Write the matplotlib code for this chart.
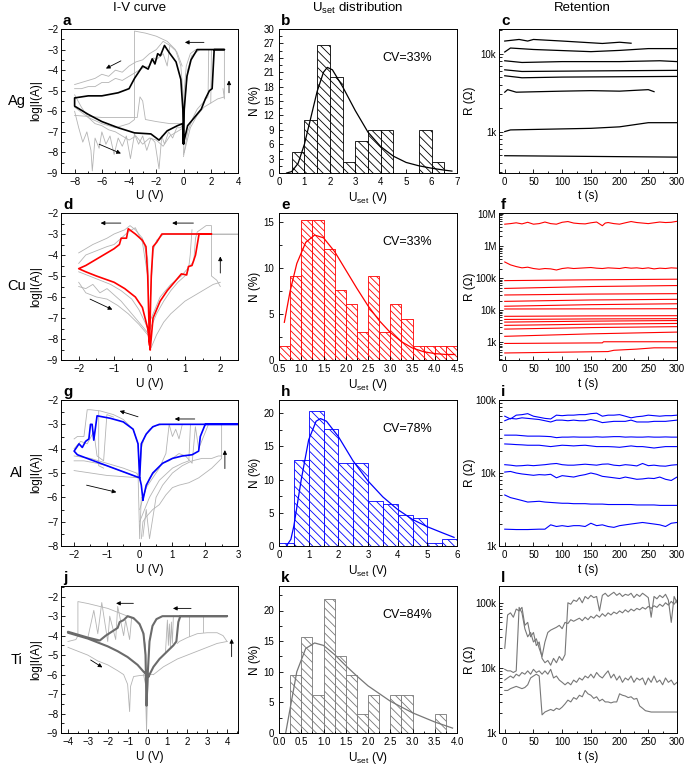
import matplotlib
matplotlib.use('Agg')
import matplotlib.pyplot as plt
from matplotlib.ticker import MultipleLocator, FixedLocator, FuncFormatter, LogLocator, NullFormatter
import numpy as np

plt.rcParams['font.family'] = ['Liberation Sans', 'DejaVu Sans']
plt.rcParams['hatch.linewidth'] = 0.6
plt.rcParams['mathtext.default'] = 'regular'

# ---------------- I-V curves (log|I| vs U) ----------------
# Ag (a): highlighted black loop
a_main_x = [0, 0.3, 0.8, 1.3, 1.6, 1.9, 2.1, 2.25, 3.0, 1.0, 0.55, 0.25, 0.05, 0, -0.05, -0.2, -0.55, -1.05, -1.4,
            -1.7, -1.9, -2.1, -2.3, -2.6, -3.0, -3.6, -4.0, -4.8, -6.0, -7.0, -8.0,
            -8.0, -7.0, -6.0, -4.8, -3.6, -2.4, -1.8, -1.2, -0.45, -0.07, 0]
a_main_y = [-7.55, -6.7, -6.3, -5.9, -5.4, -5.0, -4.9, -3.0, -3.0, -3.0, -3.5, -4.3, -5.9, -7.6, -5.9, -4.45, -3.6, -3.15, -2.8,
            -3.3, -3.2, -3.7, -3.45, -3.95, -3.8, -4.4, -4.9, -5.1, -5.25, -5.25, -5.35,
            -5.75, -6.15, -6.5, -6.8, -7.05, -7.1, -7.4, -6.95, -6.7, -6.6, -7.55]
a_gray = [
    ([3.0, 0.9, 0.5, 0.2, 0.05, 0, -0.05, -0.2, -0.6, -1.2, -2.0, -2.8, -3.6, -3.6, -4.0, -5.0, -6.0, -7.0, -8.0],
     [-3.0, -3.0, -3.2, -3.8, -5.0, -7.0, -5.0, -3.8, -3.0, -2.6, -2.35, -2.2, -2.1, -6.4, -6.6, -6.8, -6.6, -6.3, -5.8]),
    ([-8, -7.5, -7, -6.5, -6, -5.5, -5, -4.5, -4, -3.5, -3, -2.5, -2, -1.5, -1, -0.5, -0.1],
     [-4.7, -4.6, -4.5, -4.4, -4.2, -4.3, -4.0, -4.1, -3.8, -3.6, -3.5, -3.2, -3.0, -2.6, -2.8, -3.1, -3.8]),
    ([-8, -7.5, -7, -6.5, -6, -5.5, -5, -4.5, -4, -3.5, -3, -2.5, -2.2, -2, -1.5, -1.2, -1],
     [-4.9, -4.9, -4.8, -4.8, -4.6, -4.6, -4.4, -4.5, -4.3, -4.1, -3.9, -3.8, -3.4, -3.5, -3.2, -3.8, -2.8]),
    ([-8, -7.7, -7.4, -7.1, -6.8, -6.7, -6.5, -6.2, -6, -5.7, -5.4, -5.1, -4.8, -4.5, -4.2, -3.9, -3.6, -3.3, -3, -2.7,
      -2.4, -2.1, -1.8, -1.6, -1.4, -1.1, -0.8, -0.5, -0.2, 0],
     [-6.0, -6.8, -7.5, -7.0, -7.9, -8.9, -7.3, -7.8, -7.0, -7.6, -7.2, -8.1, -7.3, -7.7, -7.2, -8.3, -7.1, -7.6, -7.2, -7.9,
      -7.3, -7.5, -8.8, -7.2, -7.6, -7.0, -7.3, -6.8, -6.8, -6.6]),
    ([-8, -7.5, -7, -6.5, -6, -5.5, -5, -4.5, -4, -3.5, -3, -2.5, -2, -1.5, -1, -0.5, 0],
     [-5.2, -5.8, -6.3, -6.6, -6.7, -6.9, -7.0, -7.2, -7.4, -7.2, -7.6, -7.3, -7.4, -7.7, -7.2, -7.0, -6.8]),
    ([-8, -6, -4, -3.4, -3.2, -3, -2.8, -2, -1, 0],
     [-6.2, -6.3, -6.3, -6.3, -5.3, -5.5, -6.4, -6.5, -6.6, -6.6]),
    ([0, 0.3, 0.7, 1.0, 1.4, 1.8, 1.85, 2.0], [-8.2, -7.0, -6.3, -5.9, -5.6, -5.3, -3.0, -3.0]),
    ([0.05, 0.5, 1, 1.5, 2, 2.5, 3.0], [-8.0, -6.8, -6.2, -5.8, -5.6, -5.4, -5.3]),
    ([2.0, 2.05, 3.0], [-5.6, -3.0, -3.0]),
    ([2.9, 3.0, 3.0], [-4.9, -5.4, -3.0]),
    ([3, 1.2, 0.6, 0.3, 0.1, 0], [-3, -3, -3.3, -4, -5.5, -8.1]),
]
a_arrows = [((-4.6, -3.55), (-5.7, -3.92)), ((1.5, -2.65), (0.1, -2.65)),
            ((3.34, -5.1), (3.34, -4.5)), ((-6.2, -7.6), (-4.6, -8.05))]

# Cu (d): highlighted red loop
d_main_x = [0.02, 0.1, 0.3, 0.5, 0.7, 0.9, 1.05, 1.1, 1.2, 1.3, 1.4, 1.75, 0.35, 0.2, 0.1, 0.05, 0.0,
            -0.05, -0.1, -0.2, -0.4, -0.6, -0.65, -0.8, -0.85, -1.0, -1.2, -1.5, -1.8, -2.0,
            -1.8, -1.5, -1.0, -0.7, -0.4, -0.2, -0.05, 0.02]
d_main_y = [-8.5, -7.0, -6.2, -5.7, -5.3, -4.9, -4.95, -4.55, -4.5, -4.0, -3.0, -3.0, -3.0, -3.4, -3.6, -5.0, -8.3,
            -5.0, -3.6, -3.3, -3.0, -2.75, -3.2, -3.2, -3.5, -3.7, -3.9, -4.2, -4.5, -4.65,
            -4.8, -5.0, -5.3, -5.6, -6.0, -6.5, -7.5, -8.5]
d_gray = [
    ([-2, -1.6, -1.2, -1.0, -0.7, -0.55, -0.4, -0.2, -0.05, 0.0], [-3.9, -3.5, -3.2, -3.0, -2.8, -2.6, -2.8, -3.2, -4.2, -7.8]),
    ([-2, -1.8, -1.5, -1.2, -1, -0.8, -0.6, -0.4, -0.2, -0.05], [-4.4, -4.0, -3.8, -3.6, -3.5, -3.2, -2.9, -2.7, -3.4, -5.0]),
    ([-2, -1.8, -1.6, -1.4, -1.2, -1.0, -0.8, -0.6, -0.4, -0.2, 0], [-5.5, -5.6, -5.4, -5.8, -5.6, -5.9, -6.2, -6.6, -7.0, -7.4, -7.8]),
    ([-2, -1.7, -1.4, -1.1, -0.8, -0.5, -0.3, -0.1, 0.05], [-4.8, -5.0, -5.2, -5.4, -5.7, -6.1, -6.6, -7.3, -8.0]),
    ([-2, -1.8, -1.5, -1.2, -0.9, -0.6, -0.3, 0], [-5.3, -5.8, -6.0, -6.1, -6.4, -6.8, -7.3, -7.9]),
    ([0.05, 0.2, 0.4, 0.6, 0.8, 1.0, 1.2, 1.4, 1.6, 1.8, 2.0], [-8.4, -7.8, -7.2, -6.8, -6.5, -6.2, -6.0, -5.8, -5.6, -5.4, -5.3]),
    ([0.0, 0.2, 0.4, 0.6, 0.8, 1.0, 1.1, 1.15, 1.2], [-7.6, -6.8, -6.2, -5.7, -5.3, -5.0, -4.7, -4.0, -2.8]),
    ([0.0, 0.3, 0.6, 0.9, 1.1, 1.25, 1.3, 1.35, 1.6, 1.75, 1.75, 1.9, 2.0], [-7.2, -6.0, -5.4, -5.0, -4.6, -4.3, -3.2, -2.9, -2.6, -2.6, -5.0, -5.2, -5.5]),
    ([1.4, 2.5], [-3.0, -3.0]),
    ([2.5, 0.4, 0.2, 0.1, 0.03], [-3.0, -3.0, -3.3, -3.8, -6.0]),
]
d_arrows = [((-0.81, -2.48), (-1.38, -2.48)), ((1.24, -2.48), (0.64, -2.48)),
            ((2.0, -4.86), (2.0, -4.07)), ((-1.68, -6.1), (-1.05, -6.6))]

# Al (g): highlighted blue loop
g_main_x = [0.1, 0.2, 0.4, 0.7, 1.0, 1.3, 1.6, 1.8, 1.85, 2.0, 3.0, 0.6, 0.4, 0.2, 0.05, 0.0,
            -0.05, -0.2, -0.5, -0.9, -1.3, -1.4, -1.45, -1.5, -1.55, -1.65, -1.75, -1.85, -2.0,
            -1.9, -1.5, -1.0, -0.5, 0.0, 0.05, 0.1]
g_main_y = [-6.1, -5.5, -5.0, -4.6, -4.4, -4.3, -4.25, -4.1, -3.5, -3.0, -3.0, -3.0, -3.1, -3.4, -3.8, -5.2,
            -3.8, -3.2, -2.9, -2.75, -2.65, -3.65, -3.0, -3.0, -3.6, -3.7, -3.95, -3.8, -4.1,
            -4.25, -4.45, -4.7, -4.95, -5.2, -5.5, -6.1]
g_gray = [
    ([-2, -1.9, -1.7, -1.6, -1.5, -1.2, -0.8, -0.5, -0.2, -0.05, 0], [-3.6, -3.5, -3.5, -2.4, -2.4, -2.45, -2.6, -2.8, -3.2, -3.8, -5.3]),
    ([-2, -1.8, -1.6, -1.4, -1.3, -1.1, -1.0, -0.8], [-4.0, -3.7, -3.8, -3.3, -4.3, -4.5, -2.6, -2.7]),
    ([-2, -1.5, -1, -0.5, 0], [-4.9, -5.0, -5.1, -5.15, -5.2]),
    ([-2, -1.5, -1, -0.5, -0.1, 0], [-4.3, -4.4, -4.6, -4.8, -5.0, -5.2]),
    ([-2, -1.7, -1.3, -1.0, -0.6, -0.2, 0], [-4.5, -4.5, -4.6, -4.7, -4.9, -5.1, -5.2]),
    ([-1.25, -1.25, -1.1], [-2.45, -4.7, -4.8]),
    ([0.05, 0.1, 0.2, 0.4, 0.6, 0.8, 1.0, 1.2, 1.5, 1.8, 2.0, 2.2, 2.5, 2.5, 2.6],
     [-7.7, -7.0, -6.8, -6.5, -6.3, -5.9, -5.6, -5.5, -5.4, -5.2, -5.0, -4.8, -4.4, -3.0, -3.0]),
    ([0.1, 0.2, 0.3, 0.5, 0.7, 1.0, 1.3, 1.6, 1.9, 2.2, 2.4, 2.5], [-7.6, -6.5, -7.7, -6.0, -5.5, -5.0, -4.7, -4.5, -4.4, -4.4, -4.3, -4.3]),
    ([0.0, 0.2, 0.4, 0.6, 0.8, 0.9, 1.0, 1.1, 1.2, 1.3], [-6.5, -5.6, -5.2, -4.8, -4.2, -3.0, -3.5, -3.2, -3.6, -3.0]),
    ([0.1, 0.3, 0.5, 0.7, 0.9, 1.2, 1.4, 1.6, 1.7, 1.8, 2.1, 2.5], [-6.0, -5.2, -4.9, -4.6, -4.5, -4.2, -4.3, -4.6, -3.1, -4.0, -3.0, -3.0]),
    ([0.0, 0.3, 0.6, 1.0, 1.3, 1.5, 1.55], [-7.0, -6.0, -5.3, -4.8, -4.6, -4.5, -3.0]),
    ([3, 0.7, 0.5, 0.3, 0.15, 0.05, 0], [-3, -3, -3.05, -3.2, -3.5, -4, -5.2]),
    ([-0.05, 0, 0.05], [-5.0, -7.7, -6.0]),
]
g_arrows = [((-0.05, -2.69), (-0.61, -2.45)), ((1.68, -2.78), (1.07, -2.78)),
            ((2.6, -4.82), (2.6, -4.06)), ((-1.62, -5.5), (-0.71, -5.79))]

# Ti (j): highlighted dark gray loop
j_main_x = [0.05, 0.3, 0.6, 1.0, 1.3, 1.45, 1.55, 1.65, 4.0, 0.75, 0.45, 0.25, 0.1, 0.02, -0.05, -0.1, -0.2, -0.4, -0.7,
            -1.0, -1.2, -1.4, -1.5, -1.8, -2.1, -2.4, -3.0, -3.5, -4.0,
            -4.0, -3.5, -3.0, -2.5, -2.0, -1.5, -1.0, -0.5, -0.2, 0.05]
j_main_y = [-6.1, -5.6, -5.2, -4.8, -4.5, -4.3, -3.3, -3.0, -3.0, -3.0, -3.15, -3.5, -4.3, -5.8, -7.6, -5.0, -3.9, -3.4, -3.1,
            -3.0, -3.2, -3.3, -3.6, -3.8, -4.0, -4.25, -4.1, -3.95, -3.8,
            -3.85, -4.0, -4.15, -4.35, -4.55, -4.8, -5.1, -5.5, -5.85, -6.1]
j_gray = [
    ([-4.0, -3.6, -3.5, -3.5, -3.0, -2.0, -1.5, -1.0, -0.6, -0.3, -0.1, -0.05],
     [-4.3, -4.2, -4.0, -2.25, -2.35, -2.6, -2.8, -3.0, -3.2, -3.6, -4.5, -8.8]),
    ([-4.0, -3.5, -3.0, -2.5, -2.0, -1.5, -1.2, -1.0, -0.9, -0.85, -0.7, -0.4, 0.2, 0.3],
     [-4.6, -4.8, -5.0, -5.3, -5.5, -5.8, -6.0, -6.5, -7.9, -6.6, -6.1, -6.05, -6.0, -6.0]),
    ([0.3, 0.8, 1.5, 2.0, 2.5, 3.0, 3.5, 4.0], [-6.0, -5.6, -5.2, -5.0, -4.8, -4.6, -4.4, -4.3]),
    ([4.0, 3.8, 3.5, 3.0, 2.5, 2.0, 1.8, 1.6, 1.5], [-4.3, -4.0, -3.85, -3.85, -3.9, -4.1, -4.2, -4.3, -4.4]),
    ([0.9, 1.0, 1.05, 1.1, 1.15, 1.2, 1.25, 1.3], [-4.9, -3.2, -4.5, -3.4, -4.6, -3.3, -4.4, -3.0]),
    ([2.1, 2.1, 2.8, 2.8], [-4.0, -3.0, -3.0, -3.8]),
    ([-0.8, -0.9, -1.1, -1.2, -1.5, -1.6, -1.9, -2.0, -2.3, -2.5, -2.7, -3.0],
     [-3.1, -4.2, -3.2, -4.0, -2.5, -4.2, -3.0, -4.3, -2.3, -3.9, -2.7, -4.1]),
    ([-0.2, -0.1, -0.05, 0.0, 0.05], [-6.0, -6.5, -8.9, -7.0, -6.0]),
]
j_arrows = [((-0.71, -2.34), (-1.58, -2.34)), ((2.19, -2.6), (1.28, -2.6)),
            ((4.23, -5.08), (4.23, -4.17)), ((-2.86, -5.25), (-2.27, -5.63))]

# ---------------- U_set histograms ----------------
b_left = [0.5, 1.0, 1.5, 2.0, 2.5, 3.0, 3.5, 4.0, 5.5, 6.0]
b_height = [4.4, 11.1, 26.7, 20.0, 2.2, 6.7, 8.9, 8.9, 8.9, 2.2]
b_fit_x = [0.3, 0.5, 0.75, 1.0, 1.25, 1.5, 1.75, 1.9, 2.1, 2.5, 3.0, 3.5, 4.0, 4.5, 5.0, 5.5, 6.0, 6.5, 6.8]
b_fit_y = [0, 0.3, 2, 6, 11.5, 17, 21, 22, 21.5, 18, 13, 8.5, 5.5, 3.5, 2.2, 1.5, 1.0, 0.6, 0.4]

e_left = [0.5, 0.75, 1.0, 1.25, 1.5, 1.75, 2.0, 2.25, 2.5, 2.75, 3.0, 3.25, 3.5, 3.75, 4.0, 4.25]
e_height = [1.5, 9.1, 15.2, 15.2, 12.1, 7.6, 6.1, 3.0, 9.1, 3.0, 6.1, 4.5, 1.5, 1.5, 1.5, 1.5]
e_fit_x = [0.62, 0.75, 0.9, 1.1, 1.3, 1.5, 1.75, 2.0, 2.25, 2.5, 2.75, 3.0, 3.25, 3.5, 3.75, 4.0, 4.25, 4.45]
e_fit_y = [4.1, 7.5, 10.5, 12.8, 13.6, 13.3, 11.8, 9.8, 7.8, 5.9, 4.3, 3.0, 2.0, 1.3, 0.9, 0.7, 0.6, 0.6]

h_left = [0.0, 0.5, 1.0, 1.5, 2.0, 2.5, 3.0, 3.5, 4.0, 4.5, 5.0, 5.5]
h_height = [0.5, 13.0, 20.3, 17.7, 12.5, 12.5, 6.8, 6.3, 4.7, 4.2, 0.5, 1.0]
h_fit_x = [0.25, 0.4, 0.5, 0.75, 1.0, 1.25, 1.4, 1.6, 2.0, 2.5, 3.0, 3.5, 4.0, 4.5, 5.0, 5.5, 5.9]
h_fit_y = [0, 1, 3, 10, 16, 18.8, 19.2, 18.8, 16.5, 12.8, 9.8, 7.4, 5.5, 4.0, 2.9, 2.0, 1.3]

k_left = [0.25, 0.5, 0.75, 1.0, 1.25, 1.5, 1.75, 2.0, 2.5, 2.75, 3.5]
k_height = [9.4, 15.6, 6.25, 21.9, 12.5, 9.4, 3.1, 6.25, 6.25, 6.25, 3.1]
k_fit_x = [0.15, 0.25, 0.4, 0.6, 0.8, 1.0, 1.25, 1.5, 1.75, 2.0, 2.5, 3.0, 3.5, 3.9]
k_fit_y = [0, 4, 10, 13.8, 14.7, 14.3, 12.8, 11, 9.3, 7.7, 5.2, 3.3, 1.8, 0.8]

# ---------------- Retention (R in kOhm vs t) ----------------
c_lines = [
    ([0, 25, 40, 50, 100, 170, 200, 220], [14.5, 15.2, 14.5, 15.2, 14.5, 13.5, 14.0, 13.6]),
    ([0, 10, 50, 150, 200, 250, 300], [10.5, 11.8, 11.3, 10.6, 11.0, 11.6, 11.6]),
    ([0, 30, 100, 200, 270, 300], [8.1, 7.7, 7.9, 7.9, 8.1, 7.9]),
    ([0, 30, 150, 300], [6.2, 5.9, 6.0, 6.1]),
    ([0, 30, 100, 300], [5.2, 4.9, 5.0, 5.1]),
    ([0, 5, 20, 60, 100, 150, 200, 250, 260], [3.2, 3.45, 3.2, 3.25, 3.3, 3.35, 3.3, 3.45, 3.25]),
    ([0, 10, 150, 200, 250, 300], [1.0, 1.05, 1.1, 1.15, 1.3, 1.3]),
    ([0, 300], [0.49, 0.47]),
]

f_t10 = [0, 10, 20, 30, 40, 50, 60, 70, 80, 90, 100, 110, 120, 130, 140, 150, 160, 170, 175, 180,
         190, 200, 210, 220, 230, 240, 250, 260, 270, 280, 290, 300]
f_top = [4800, 5000, 5300, 4900, 5500, 4800, 5000, 5600, 5000, 4800, 5500, 5800, 5200, 5000, 4900, 5300, 5600, 4300, 5200, 5400,
         5000, 4800, 5300, 5800, 5400, 5200, 5000, 5300, 5600, 5400, 5500, 5900]
f_second = [320, 260, 230, 210, 220, 200, 190, 200, 195, 180, 200, 210, 200, 205, 210, 215, 205, 200, 205, 210,
            205, 200, 215, 205, 210, 200, 210, 195, 205, 200, 210, 205]
f_start = [84, 48, 30, 19, 13.4, 11, 6.5, 5.2, 4.3, 3.4, 2.6, 1.55]
f_mid = [89, 55, 32, 21, 15, 11.1, 6.7, 5.4, 4.6, 3.7, 2.9, 1.85]
f_end = [93, 59, 33, 22, 16, 11.2, 6.8, 5.5, 4.8, 3.9, 3.1, 2.1]
f_step_lines = [
    ([0, 170, 172, 300], [0.93, 0.97, 1.05, 1.05]),
    ([0, 180, 190, 230, 260, 300], [0.47, 0.52, 0.57, 0.62, 0.68, 0.68]),
]

i_t = [0, 10, 20, 30, 40, 50, 60, 70, 80, 90, 100, 110, 120, 130, 140, 150, 160, 170, 180, 190, 200,
       210, 220, 230, 240, 250, 260, 270, 280, 290, 300]
i_lines = [
    [60, 55, 62, 63, 65, 60, 58, 56, 55, 62, 61, 62, 62, 63, 63, 65, 66, 60, 62, 62, 63, 60, 57, 59, 60, 62, 61, 60, 61, 61, 62],
    [52, 56, 55, 57, 56, 55, 54, 52, 50, 53, 53, 52, 53, 52, 52, 54, 52, 49, 50, 51, 51, 51, 53, 50, 50, 50, 51, 51, 51, 52, 53],
    [33, 33, 33, 32.5, 32, 32, 32, 31.8, 31.5, 30.5, 31, 31, 31.2, 31, 31, 31, 31.3, 31, 31.2, 31.5, 31.5, 31, 31.2, 31, 31, 31.3, 31, 31, 31.2, 31, 31],
    [25, 24.8, 24.5, 24.3, 24, 24, 24, 23.5, 23, 23.5, 24, 23.8, 23.5, 23.8, 24, 23.5, 23, 23, 23, 22.8, 22.5, 23, 23.5, 23, 23, 22.5, 22, 22.5, 23, 23, 23],
    [13, 12.8, 12.5, 12.6, 12.8, 12.6, 12.8, 13, 13.3, 13.5, 13, 12.8, 12.8, 13, 13.2, 13, 12.8, 13.2, 13.3, 12.8, 12.6, 13, 12.8, 12.5, 13.5, 12.6, 12.8, 12.5, 12.4, 12.8, 13],
    [10.3, 10.5, 10, 9.7, 9.5, 9.3, 9.5, 9.4, 9.6, 8.6, 9.2, 9, 8.8, 9.2, 9.5, 10, 9.6, 9.0, 8.8, 8.6, 8.4, 8.8, 8.5, 8.2, 8.3, 8.5, 8.4, 8.8, 8.2, 7.9, 8.8],
    [5.0, 4.6, 4.4, 4.2, 4.0, 4.05, 4.1, 4.0, 3.95, 3.9, 3.85, 3.85, 3.8, 3.8, 3.8, 3.75, 3.75, 3.75, 3.7, 3.7, 3.7, 3.7, 3.7, 3.65, 3.65, 3.65, 3.65, 3.6, 3.6, 3.6, 3.6],
    [1.7, 1.69, 1.68, 1.68, 1.68, 1.69, 1.7, 1.7, 1.95, 1.85, 1.9, 1.85, 1.9, 1.9, 1.85, 2.05, 1.9, 1.95, 1.85, 1.8, 1.9, 1.95, 2.0, 2.05, 2.1, 2.05, 2.0, 1.95, 1.85, 2.05, 2.1],
]

l_t = [0, 5, 10, 15, 20, 25, 30, 35, 40, 45, 50, 55, 60, 65, 70, 75, 80, 85, 90, 95, 100, 105, 110, 115, 120,
       125, 130, 135, 140, 145, 150, 155, 160, 165, 170, 175, 180, 185, 190, 195, 200, 205, 210, 215, 220,
       225, 230, 235, 240, 245, 250, 255, 260, 265, 270, 275, 280, 285, 290, 295, 300]
l_lines = [
    [20, 65, 70, 60, 80, 75, 85, 45, 50, 30, 35, 22, 25, 14, 12, 13, 11, 14, 12, 15, 13, 16, 100, 95, 110,
     105, 120, 100, 125, 115, 130, 120, 125, 75, 130, 140, 125, 135, 145, 130, 140, 125, 135, 130, 140,
     120, 135, 125, 140, 130, 120, 60, 125, 115, 130, 120, 135, 110, 50, 125, 100],
    [9.5, 9, 9, 8.5, 9, 85, 70, 40, 30, 35, 25, 28, 20, 15, 25, 35, 38, 40, 42, 45, 40, 50, 48, 55, 52,
     55, 58, 53, 60, 55, 62, 58, 65, 60, 68, 62, 70, 65, 72, 68, 75, 70, 78, 72, 80,
     75, 82, 78, 85, 80, 88, 82, 90, 85, 95, 88, 100, 92, 105, 95, 110],
    [6.5, 7, 7.5, 7, 8, 7.5, 8.5, 8, 9, 8, 9.5, 8.5, 9, 8, 9, 8, 9.5, 7, 7.5, 6.5, 6, 5.5, 6, 5.5, 6.5,
     6, 7, 6.5, 7.5, 7, 8, 7, 8.5, 7.5, 7, 8, 9, 7, 8, 6.5, 7.5, 6, 7, 6.5, 7.5,
     6, 7, 6.5, 7, 5.5, 7, 6, 7.5, 6, 6.5, 5.5, 7, 6, 6.5, 5.5, 6],
    [4.5, 4.5, 4.8, 5, 5.2, 5, 4.8, 5, 5.5, 7, 7.5, 8, 7.5, 1.9, 2.1, 2.2, 2.3, 2.2, 2.4, 2.3, 2.5, 2.8, 3.2, 3, 3.5,
     3.3, 3.8, 3.6, 4.5, 4, 3.8, 3.4, 3.6, 3.1, 3.3, 3, 3, 2.9, 3, 3, 4, 3.8, 3.7, 3.5, 3.6,
     3.3, 3.4, 2.6, 2.4, 2.2, 2.15, 2.1, 2.1, 2.1, 2.1, 2.1, 2.1, 2.1, 2.1, 2.1, 2.1],
]

# ---------------- layout ----------------
W, H = 685, 765
fig = plt.figure(figsize=(W / 100, H / 100), dpi=100)
row_top = [29, 213, 400, 586]
row_bot = [173, 360, 546, 733]
col_left = [61, 279, 499]
col_right = [238, 457, 677]
metals = ['Ag', 'Cu', 'Al', 'Ti']
letters = ['a', 'b', 'c', 'd', 'e', 'f', 'g', 'h', 'i', 'j', 'k', 'l']


def make_ax(r, c):
    l, rr, t, b = col_left[c], col_right[c], row_top[r], row_bot[r]
    ax = fig.add_axes([l / W, 1 - b / H, (rr - l) / W, (b - t) / H])
    ax.tick_params(which='both', direction='in', top=False, right=False, labelsize=7, width=0.6, pad=2)
    ax.tick_params(which='major', length=3)
    ax.tick_params(which='minor', length=1.8)
    ax.tick_params(axis='x', pad=3)
    for s in ax.spines.values():
        s.set_linewidth(0.7)
    fig.text((l + 2) / W, 1 - (t - 1) / H, letters[r * 3 + c], fontsize=11, fontweight='bold', va='bottom', ha='left')
    return ax


def iv_panel(ax, gray, mx, my, color, lw, arrows, xlim, ylim, xstep):
    for gx, gy in gray:
        ax.plot(gx, gy, color='#b4b4b4', lw=0.6)
    ax.plot(mx, my, color=color, lw=lw)
    for start, end in arrows:
        ax.annotate('', xy=end, xytext=start,
                    arrowprops=dict(arrowstyle='-|>', lw=0.6, color='k', mutation_scale=6, shrinkA=0, shrinkB=0))
    ax.set_xlim(xlim)
    ax.set_ylim(ylim)
    ax.xaxis.set_major_locator(MultipleLocator(xstep))
    ax.xaxis.set_minor_locator(MultipleLocator(xstep / 2))
    ax.yaxis.set_major_locator(MultipleLocator(1))
    ax.yaxis.set_minor_locator(MultipleLocator(0.5))
    ax.set_xlabel('U (V)', fontsize=8.5)
    ax.set_ylabel('log|I(A)|', fontsize=8.5)
    ax.yaxis.set_label_coords(-0.105, 0.5)
    ax.xaxis.set_label_coords(0.5, -0.12)


def hist_panel(ax, left, height, width, fx, fy, color, cv, xlim, ylim, xstep, ystep, fmt, hatch):
    ax.bar(left, height, width=width, align='edge', facecolor='white', edgecolor=color, lw=0.6, hatch=hatch)
    ax.plot(fx, fy, color=color, lw=0.9)
    ax.set_xlim(xlim)
    ax.set_ylim(ylim)
    ax.xaxis.set_major_locator(MultipleLocator(xstep))
    ax.xaxis.set_minor_locator(MultipleLocator(xstep / 2))
    ax.yaxis.set_major_locator(MultipleLocator(ystep))
    ax.yaxis.set_minor_locator(MultipleLocator(ystep / 2))
    ax.xaxis.set_major_formatter(FuncFormatter(lambda v, p: fmt.format(v)))
    ax.tick_params(axis='y', pad=3.5)
    ax.text(0.72, 0.8, cv, transform=ax.transAxes, fontsize=9, ha='center', va='center')
    ax.set_xlabel('U$_{set}$ (V)', fontsize=8.5)
    ax.set_ylabel('N (%)', fontsize=8.5)
    ax.yaxis.set_label_coords(-0.1, 0.5)
    ax.xaxis.set_label_coords(0.5, -0.115)


def ret_panel(ax, ylim, ticks, labels):
    ax.set_yscale('log')
    ax.set_xlim(-10, 300)
    ax.set_ylim(ylim)
    ax.xaxis.set_major_locator(MultipleLocator(50))
    ax.xaxis.set_minor_locator(MultipleLocator(25))
    names = dict(zip(ticks, labels))
    ax.yaxis.set_major_locator(FixedLocator(ticks))
    ax.yaxis.set_major_formatter(FuncFormatter(lambda v, p: names.get(round(v), '')))
    ax.yaxis.set_minor_locator(LogLocator(base=10, subs=np.arange(2, 10)))
    ax.yaxis.set_minor_formatter(NullFormatter())
    ax.set_xlabel('t (s)', fontsize=8.5)
    ax.set_ylabel('R (Ω)', fontsize=8.5)
    ax.yaxis.set_label_coords(-0.13, 0.5)
    ax.xaxis.set_label_coords(0.5, -0.12)


# column titles and row labels
fig.text(140 / W, 1 - 8 / H, 'I-V curve', fontsize=9.5, ha='center', va='center')
fig.text(358 / W, 1 - 8 / H, 'U$_{set}$ distribution', fontsize=9.5, ha='center', va='center')
fig.text(582 / W, 1 - 8 / H, 'Retention', fontsize=9.5, ha='center', va='center')
for r, m in enumerate(metals):
    fig.text(17 / W, 1 - ((row_top[r] + row_bot[r]) / 2) / H, m, fontsize=10.5, ha='center', va='center')

# row 1: Ag
ax = make_ax(0, 0)
iv_panel(ax, a_gray, a_main_x, a_main_y, 'black', 1.2, a_arrows, (-9, 4), (-9, -2), 2)
ax = make_ax(0, 1)
hist_panel(ax, b_left, b_height, 0.5, b_fit_x, b_fit_y, 'black', 'CV=33%', (0, 7), (0, 30), 1, 3, '{:.0f}', '\\\\\\\\')
ax.yaxis.set_minor_locator(MultipleLocator(1.5))
ax = make_ax(0, 2)
for t, v in c_lines:
    ax.plot(t, np.array(v) * 1e3, color='black', lw=0.9)
ret_panel(ax, (294, 20700), [1000, 10000], ['1k', '10k'])

# row 2: Cu
ax = make_ax(1, 0)
iv_panel(ax, d_gray, d_main_x, d_main_y, '#ff0000', 1.2, d_arrows, (-2.5, 2.5), (-9, -2), 1)
ax = make_ax(1, 1)
hist_panel(ax, e_left, e_height, 0.25, e_fit_x, e_fit_y, '#ff0000', 'CV=33%', (0.5, 4.5), (0, 16), 0.5, 5, '{:.1f}', '\\\\\\\\\\')
ax = make_ax(1, 2)
ax.plot(f_t10, np.array(f_top) * 1e3, color='#ff0000', lw=0.8)
ax.plot(f_t10, np.array(f_second) * 1e3, color='#ff0000', lw=0.8)
for s, m, e in zip(f_start, f_mid, f_end):
    ax.plot([0, 150, 300], [s * 1e3, m * 1e3, e * 1e3], color='#ff0000', lw=0.8)
for t, v in f_step_lines:
    ax.plot(t, np.array(v) * 1e3, color='#ff0000', lw=0.8)
ret_panel(ax, (284, 1.07e7), [1000, 10000, 100000, 1000000, 10000000], ['1k', '10k', '100k', '1M', '10M'])

# row 3: Al
ax = make_ax(2, 0)
iv_panel(ax, g_gray, g_main_x, g_main_y, '#0000ff', 1.2, g_arrows, (-2.4, 3), (-8, -2), 1)
ax = make_ax(2, 1)
hist_panel(ax, h_left, h_height, 0.5, h_fit_x, h_fit_y, '#0000ff', 'CV=78%', (0, 6), (0, 22), 1, 5, '{:.0f}', '\\\\\\\\')
ax = make_ax(2, 2)
for v in i_lines:
    ax.plot(i_t, np.array(v) * 1e3, color='#0000ff', lw=0.8)
ret_panel(ax, (1000, 100000), [1000, 10000, 100000], ['1k', '10k', '100k'])

# row 4: Ti
ax = make_ax(3, 0)
iv_panel(ax, j_gray, j_main_x, j_main_y, '#6b6b6b', 1.5, j_arrows, (-4.35, 4.55), (-9, -1.45), 1)
ax = make_ax(3, 1)
hist_panel(ax, k_left, k_height, 0.25, k_fit_x, k_fit_y, '#777777', 'CV=84%', (0, 4), (0, 24), 0.5, 5, '{:.1f}', '\\\\\\\\')
ax = make_ax(3, 2)
for v in l_lines:
    ax.plot(l_t, np.array(v) * 1e3, color='#777777', lw=0.8)
ret_panel(ax, (1000, 181000), [1000, 10000, 100000], ['1k', '10k', '100k'])

fig.savefig('out.png', dpi=100)
